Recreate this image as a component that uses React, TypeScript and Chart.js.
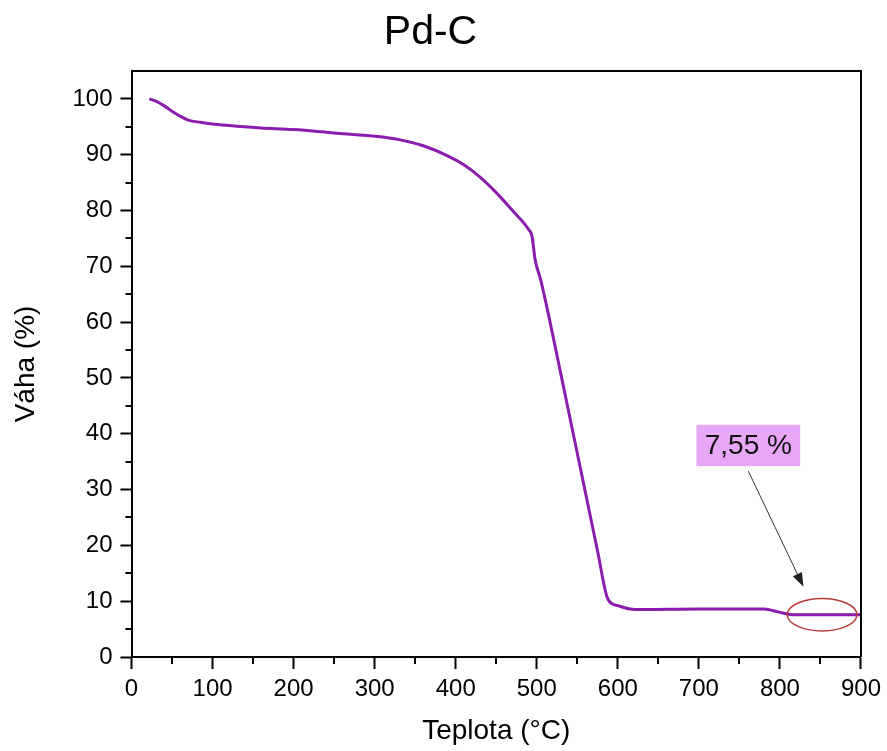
import React, { useEffect, useRef } from "react";
import { Chart, registerables } from "chart.js";

Chart.register(...registerables);

const titleText = "Pd-C";
const xTitle = "Teplota (°C)";
const yTitle = "Váha (%)";

const temps = [22, 30, 40, 50, 60, 70, 85, 100, 130, 160, 200, 250, 300, 330, 360, 390, 410, 430, 450, 470, 490, 494, 498, 505, 515, 530, 545, 560, 575, 588, 600, 615, 630, 700, 780, 800, 815, 900];
const weights = [100, 99.6, 98.8, 97.8, 96.9, 96.2, 95.8, 95.5, 95.1, 94.8, 94.5, 93.9, 93.3, 92.7, 91.6, 89.8, 88.2, 86.0, 83.2, 80.0, 76.6, 75.5, 71.2, 67.5, 61, 50.5, 40, 29.5, 19, 10.3, 9.2, 8.6, 8.5, 8.6, 8.6, 8.0, 7.58, 7.55];

const xMin = 0;
const xMax = 900;
const xStep = 100;
const yMin = 0;
const yMax = 105;
const yStep = 10;

// annotation (data coordinates)
const labelText = "7,55 %";
const labelBox = { x0: 697, x1: 825, y0: 41.6, y1: 34.2 };
const arrowFrom = { x: 761, y: 33.3 };
const arrowTo = { x: 829, y: 12.6 };
const ellipse = { cx: 852, cy: 7.58, rx: 43, ry: 2.9 };

const FONT = "Arial, 'Liberation Sans', sans-serif";

const framePlugin = {
  id: "frameAndAnnot",
  afterDraw(chart: any) {
    const { ctx, chartArea, scales } = chart;
    const xs = scales.x;
    const ys = scales.y;
    ctx.save();
    // top and right frame
    ctx.strokeStyle = "#000";
    ctx.lineWidth = 2;
    ctx.beginPath();
    ctx.moveTo(chartArea.left, chartArea.top);
    ctx.lineTo(chartArea.right, chartArea.top);
    ctx.lineTo(chartArea.right, chartArea.bottom);
    ctx.stroke();
    // minor ticks
    ctx.lineWidth = 2;
    ctx.beginPath();
    for (let v = yMin + yStep / 2; v < yMax; v += yStep) {
      const p = Math.round(ys.getPixelForValue(v));
      ctx.moveTo(chartArea.left - 6, p);
      ctx.lineTo(chartArea.left, p);
    }
    for (let v = xMin + xStep / 2; v < xMax; v += xStep) {
      const p = Math.round(xs.getPixelForValue(v));
      ctx.moveTo(p, chartArea.bottom);
      ctx.lineTo(p, chartArea.bottom + 7);
    }
    ctx.stroke();

    // ellipse
    const ecx = xs.getPixelForValue(ellipse.cx);
    const ecy = ys.getPixelForValue(ellipse.cy);
    const erx = Math.abs(xs.getPixelForValue(ellipse.cx + ellipse.rx) - ecx);
    const ery = Math.abs(ys.getPixelForValue(ellipse.cy + ellipse.ry) - ecy);
    ctx.strokeStyle = "#b83a3a";
    ctx.lineWidth = 1.5;
    ctx.beginPath();
    ctx.ellipse(ecx, ecy, erx, ery, 0, 0, Math.PI * 2);
    ctx.stroke();

    // arrow
    const ax0 = xs.getPixelForValue(arrowFrom.x);
    const ay0 = ys.getPixelForValue(arrowFrom.y);
    const ax1 = xs.getPixelForValue(arrowTo.x);
    const ay1 = ys.getPixelForValue(arrowTo.y);
    const ang = Math.atan2(ay1 - ay0, ax1 - ax0);
    const hl = 14;
    const hw = 5;
    ctx.strokeStyle = "#333";
    ctx.fillStyle = "#222";
    ctx.lineWidth = 1;
    ctx.beginPath();
    ctx.moveTo(ax0, ay0);
    ctx.lineTo(ax1 - Math.cos(ang) * hl, ay1 - Math.sin(ang) * hl);
    ctx.stroke();
    ctx.beginPath();
    ctx.moveTo(ax1, ay1);
    const bx = ax1 - Math.cos(ang) * hl;
    const by = ay1 - Math.sin(ang) * hl;
    ctx.lineTo(bx + Math.sin(ang) * hw, by - Math.cos(ang) * hw);
    ctx.lineTo(bx - Math.sin(ang) * hw, by + Math.cos(ang) * hw);
    ctx.closePath();
    ctx.fill();

    // label box
    const bx0 = xs.getPixelForValue(labelBox.x0);
    const bx1 = xs.getPixelForValue(labelBox.x1);
    const by0 = ys.getPixelForValue(labelBox.y0);
    const by1 = ys.getPixelForValue(labelBox.y1);
    ctx.fillStyle = "#e7a6f6";
    ctx.fillRect(bx0, by0, bx1 - bx0, by1 - by0);
    ctx.fillStyle = "#111";
    ctx.font = `28px ${FONT}`;
    ctx.textAlign = "center";
    ctx.textBaseline = "middle";
    ctx.fillText(labelText, (bx0 + bx1) / 2, (by0 + by1) / 2 + 1);
    ctx.restore();
  },
};

export default function App() {
  const ref = useRef<HTMLCanvasElement>(null);
  useEffect(() => {
    document.body.style.margin = "0";
    const canvas = ref.current!;
    const chart = new Chart(canvas, {
      type: "line",
      data: {
        datasets: [
          {
            data: temps.map((t, i) => ({ x: t, y: weights[i] })),
            borderColor: "#8a1cae",
            borderWidth: 3,
            pointRadius: 0,
            cubicInterpolationMode: "monotone",
            fill: false,
          },
        ],
      },
      options: {
        animation: false,
        responsive: false,
        maintainAspectRatio: false,
        layout: { padding: { top: 0, right: 26, left: 0, bottom: 0 } },
        plugins: {
          legend: { display: false },
          tooltip: { enabled: false },
          title: {
            display: true,
            text: titleText,
            color: "#000",
            font: { family: FONT, size: 41, weight: "normal" },
            padding: { top: 8, bottom: 13.8 },
          },
        },
        scales: {
          x: {
            type: "linear",
            min: xMin,
            max: xMax,
            afterFit: (s: any) => {
              s.height = 94;
            },
            ticks: {
              stepSize: xStep,
              color: "#000",
              font: { family: FONT, size: 24 },
              padding: 6,
              maxRotation: 0,
            },
            grid: {
              drawOnChartArea: false,
              drawTicks: true,
              tickLength: 12,
              tickColor: "#000",
              tickWidth: 2,
            },
            border: { display: true, color: "#000", width: 2 },
            title: {
              display: true,
              text: xTitle,
              color: "#000",
              font: { family: FONT, size: 28 },
              padding: { top: 0, bottom: 3 },
            },
          },
          y: {
            type: "linear",
            min: yMin,
            max: yMax,
            afterFit: (s: any) => {
              s.width = 131.5;
            },
            afterBuildTicks: (s: any) => {
              s.ticks = s.ticks.filter((t: any) => t.value % yStep === 0);
            },
            ticks: {
              stepSize: yStep,
              color: "#000",
              font: { family: FONT, size: 24 },
              padding: 8,
              includeBounds: false,
            },
            grid: {
              drawOnChartArea: false,
              drawTicks: true,
              tickLength: 11,
              tickColor: "#000",
              tickWidth: 2,
            },
            border: { display: true, color: "#000", width: 2 },
            title: {
              display: true,
              text: yTitle,
              color: "#000",
              font: { family: FONT, size: 28 },
              padding: { top: 9, bottom: 0 },
            },
          },
        },
      },
      plugins: [framePlugin],
    } as any);
    return () => chart.destroy();
  }, []);
  return (
    <div style={{ width: 887, height: 751 }}>
      <canvas ref={ref} width={887} height={751} style={{ display: "block", width: 887, height: 751 }} />
    </div>
  );
}
